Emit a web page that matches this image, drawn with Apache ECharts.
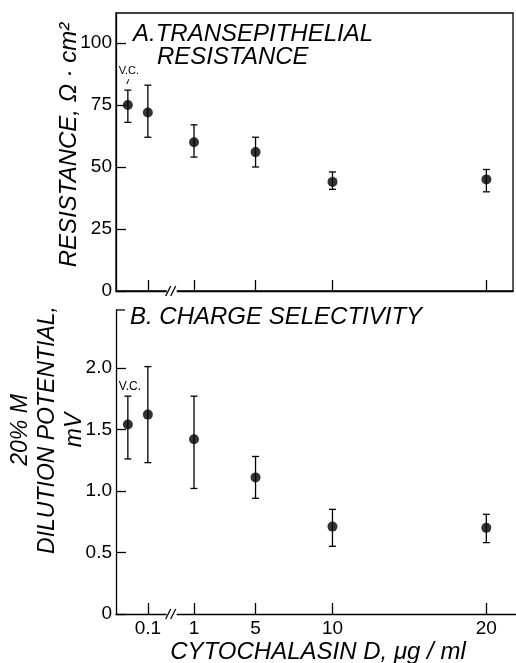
<!DOCTYPE html>
<html><head><meta charset="utf-8">
<script src="https://cdn.jsdelivr.net/npm/echarts@6/dist/echarts.min.js"></script>
<style>html,body{margin:0;padding:0;background:#fff}#c{width:516px;height:663px}</style>
</head><body><div id="c"></div>
<script>
// Concentrations of cytochalasin D (µg/ml); V.C. = vehicle control
const concLabels = ['V.C.', '0.1', '1', '5', '10', '20'];
// position of each concentration on the broken x axis (axis units)
const axisPos = [-3.3, -2, 1, 5, 10, 20];
const breakPos = -0.45;
// A. Transepithelial resistance (ohm·cm2)
const resMean = [75, 72, 60, 56, 44, 45];
const resHigh = [81, 83, 67, 62, 48, 49];
const resLow  = [68, 62, 54, 50, 41, 40];
// B. Charge selectivity: 20% M dilution potential (mV)
const dilMean = [1.54, 1.62, 1.42, 1.11, 0.71, 0.70];
const dilHigh = [1.77, 2.01, 1.77, 1.28, 0.85, 0.81];
const dilLow  = [1.26, 1.23, 1.02, 0.94, 0.55, 0.58];
const resTicks = [0, 25, 50, 75, 100];
const dilTicks = [0, 0.5, 1.0, 1.5, 2.0];
const dilTickLabels = ['0', '0.5', '1.0', '1.5', '2.0'];

const FONT = '"Liberation Sans", Arial, sans-serif';
const LW = 1.3;
const chart = echarts.init(document.getElementById('c'), null, {renderer: 'canvas'});

function errRender(params, api) {
  const x = api.value(0), lo = api.value(1), hi = api.value(2);
  const a = api.coord([x, lo]), b = api.coord([x, hi]);
  const w = 3.5, st = {stroke: '#000', lineWidth: LW};
  return {type: 'group', children: [
    {type: 'line', shape: {x1: a[0], y1: a[1], x2: b[0], y2: b[1]}, style: st},
    {type: 'line', shape: {x1: a[0] - w, y1: a[1], x2: a[0] + w, y2: a[1]}, style: st},
    {type: 'line', shape: {x1: b[0] - w, y1: b[1], x2: b[0] + w, y2: b[1]}, style: st}
  ]};
}
function xAx(gi, showLabels, max) {
  const tv = axisPos.slice(1);
  return {type: 'value', gridIndex: gi, min: -4.07, max: max,
    axisLine: {show: true, onZero: false, lineStyle: {color: '#000', width: LW}},
    splitLine: {show: false},
    axisTick: {show: true, inside: true, length: 11, customValues: tv, lineStyle: {color: '#000', width: LW}},
    axisLabel: {show: showLabels, customValues: tv, margin: 5,
      formatter: v => { const i = axisPos.findIndex(p => Math.abs(p - v) < 1e-6); return i >= 0 ? concLabels[i] : ''; },
      color: '#000', fontSize: 19, fontFamily: FONT}};
}
function yAx(gi, max, ticks, fmt) {
  return {type: 'value', gridIndex: gi, min: 0, max: max,
    axisLine: {show: true, onZero: false, lineStyle: {color: '#000', width: LW}},
    splitLine: {show: false},
    axisTick: {show: true, inside: true, length: 10, customValues: ticks, lineStyle: {color: '#000', width: LW}},
    axisLabel: {customValues: ticks, margin: 4, formatter: fmt, color: '#000', fontSize: 19, fontFamily: FONT}};
}

const resErr = axisPos.map((x, i) => [x, resLow[i], resHigh[i]]);
const resPts = axisPos.map((x, i) => [x, resMean[i]]);
const dilErr = axisPos.map((x, i) => [x, dilLow[i], dilHigh[i]]);
const dilPts = axisPos.map((x, i) => [x, dilMean[i]]);

chart.setOption({
  animation: false,
  grid: [
    {left: 116, right: 3, top: 13, height: 278, show: true, borderColor: '#000', borderWidth: LW},
    {left: 116, right: 0, top: 310, height: 304}
  ],
  xAxis: [xAx(0, false, 21.73), xAx(1, true, 21.93)],
  yAxis: [
    yAx(0, 112.1, resTicks, v => String(v)),
    yAx(1, 2.47, dilTicks, v => { const i = dilTicks.findIndex(t => Math.abs(t - v) < 1e-6); return i >= 0 ? dilTickLabels[i] : ''; })
  ],
  series: [
    {type: 'custom', xAxisIndex: 0, yAxisIndex: 0, renderItem: errRender, data: resErr, silent: true},
    {type: 'scatter', xAxisIndex: 0, yAxisIndex: 0, data: resPts, symbol: 'circle', symbolSize: 10, itemStyle: {color: '#000'}},
    {type: 'custom', xAxisIndex: 1, yAxisIndex: 1, renderItem: errRender, data: dilErr, silent: true},
    {type: 'scatter', xAxisIndex: 1, yAxisIndex: 1, data: dilPts, symbol: 'circle', symbolSize: 10, itemStyle: {color: '#000'}}
  ]
});

const g = [];
function txt(x, y, text, font, align, rot, extra) {
  const o = {type: 'text', x: x, y: y, rotation: rot || 0, z: 100,
    style: Object.assign({text: text, font: font, fill: '#000', align: align || 'left', verticalAlign: 'middle',
      textAlign: align || 'left', textVerticalAlign: 'middle'}, extra || {})};
  g.push(o);
}
// break marks on both x axes
[0, 1].forEach(gi => {
  const p = chart.convertToPixel({gridIndex: gi}, [breakPos, 0]);
  const y = p[1];
  g.push({type: 'rect', shape: {x: p[0] - 5, y: y - 3, width: 10, height: 6}, style: {fill: '#fff'}, z: 90});
  g.push({type: 'line', shape: {x1: p[0] - 6, y1: y + 5, x2: p[0] - 1, y2: y - 5}, style: {stroke: '#000', lineWidth: LW}, z: 95});
  g.push({type: 'line', shape: {x1: p[0] - 1, y1: y + 5, x2: p[0] + 4, y2: y - 5}, style: {stroke: '#000', lineWidth: LW}, z: 95});
});
// short top stub of panel B frame
const tl = chart.convertToPixel({gridIndex: 1}, [-4.07, 2.47]);
g.push({type: 'line', shape: {x1: tl[0], y1: tl[1], x2: tl[0] + 9, y2: tl[1]}, style: {stroke: '#000', lineWidth: LW}});
// V.C. annotations
const vcA = chart.convertToPixel({gridIndex: 0}, [axisPos[0], resHigh[0]]);
txt(vcA[0] + 1, vcA[1] - 19, 'V.C.', '11px ' + FONT, 'center');
g.push({type: 'line', shape: {x1: vcA[0] - 1, y1: vcA[1] - 6, x2: vcA[0] + 1, y2: vcA[1] - 11}, style: {stroke: '#000', lineWidth: 1}});
const vcB = chart.convertToPixel({gridIndex: 1}, [axisPos[0], dilHigh[0]]);
txt(vcB[0] + 2, vcB[1] - 9, 'V.C.', '12px ' + FONT, 'center');
// panel titles
txt(133, 34, 'A.TRANSEPITHELIAL', 'italic 24px ' + FONT, 'left');
txt(157, 57, 'RESISTANCE', 'italic 24px ' + FONT, 'left');
txt(130, 317, 'B. CHARGE SELECTIVITY', 'italic 24px ' + FONT, 'left');
// axis titles
txt(69, 145, 'RESISTANCE, \u03A9 \u00B7 cm\u00B2', 'italic 24px ' + FONT, 'center', Math.PI / 2);
txt(48, 430, '20% M\nDILUTION POTENTIAL,\nmV', 'italic 23px ' + FONT, 'center', Math.PI / 2, {lineHeight: 27});
txt(318, 652, 'CYTOCHALASIN D, \u03BCg / ml', 'italic 24px ' + FONT, 'center');

chart.setOption({graphic: g});
</script></body></html>
